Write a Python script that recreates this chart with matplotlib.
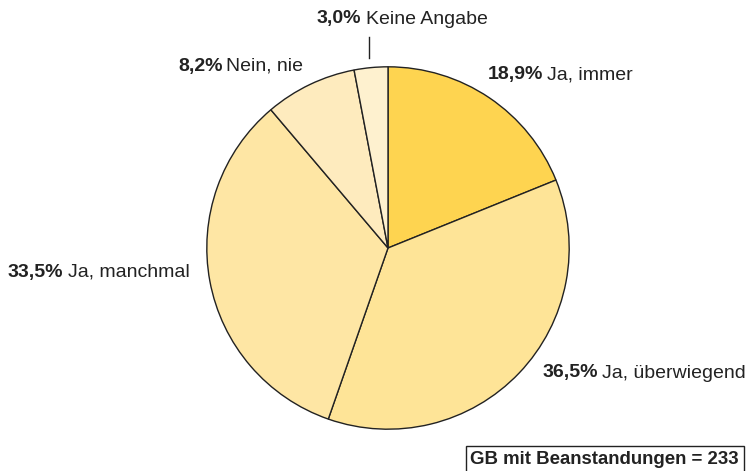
import matplotlib
matplotlib.use('Agg')
import matplotlib.pyplot as plt
from matplotlib.lines import Line2D

plt.rcParams['font.family'] = ['Liberation Sans', 'DejaVu Sans']

# Anteile im Uhrzeigersinn ab 12 Uhr
kategorien = ['Ja, immer', 'Ja, überwiegend', 'Ja, manchmal', 'Nein, nie', 'Keine Angabe']
anteile = [18.9, 36.5, 33.5, 8.2, 3.0]
farben = ['#FED450', '#FEE497', '#FEE6A4', '#FEEBBE', '#FEF1CF']

# Beschriftungspositionen (Pixel, links/Mitte)
lab_pos = [(488, 75), (543, 373), (8, 272), (178, 66), (317, 19)]

W, H = 750, 471
fig = plt.figure(figsize=(7.5, 4.71), dpi=100)

cx, cy, r = 388, 248, 183
ax = fig.add_axes([(cx - r) / W, (H - cy - r) / H, 2 * r / W, 2 * r / H])
ax.pie(anteile, colors=farben, startangle=90, counterclock=False, radius=1,
       wedgeprops=dict(edgecolor='#222222', linewidth=1.0))
ax.set_xlim(-1.01, 1.01)
ax.set_ylim(-1.01, 1.01)
ax.set_aspect('equal')
ax.axis('off')

fs = 14
renderer = fig.canvas.get_renderer()
for kat, wert, (px, py) in zip(kategorien, anteile, lab_pos):
    t = fig.text(px / W, 1 - py / H, '{:.1f}%'.format(wert).replace('.', ','),
                 fontsize=fs, fontweight='bold', color='#222222', va='center', ha='left')
    bb = t.get_window_extent(renderer)
    fig.text((bb.x1 + 4) / W, 1 - py / H, kat, fontsize=fs, color='#222222',
             va='center', ha='left')

# Hinweislinie "Keine Angabe"
fig.add_artist(Line2D([369 / W, 369 / W], [1 - 37 / H, 1 - 58 / H], color='#222222', lw=1.0))

fig.text(739 / W, 1 - 459 / H, 'GB mit Beanstandungen = 233', fontsize=13.4, fontweight='bold',
         color='#222222', ha='right', va='center',
         bbox=dict(boxstyle='square,pad=0.25', facecolor='white', edgecolor='#222222', linewidth=1.0))

fig.savefig('out.png', dpi=100)
